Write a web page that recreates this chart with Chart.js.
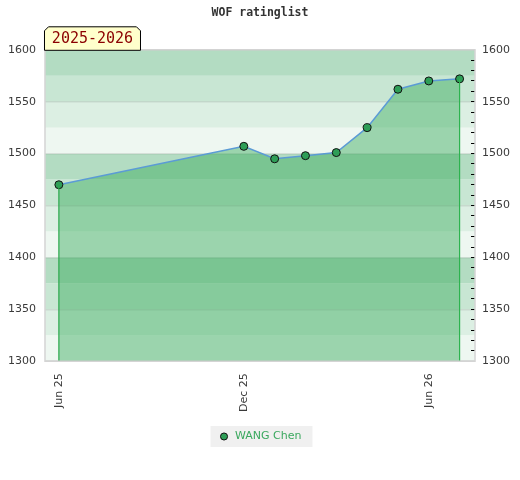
<!DOCTYPE html>
<html>
<head>
<meta charset="utf-8">
<script src="https://cdn.jsdelivr.net/npm/chart.js@4.4.1/dist/chart.umd.min.js"></script>
<style>
  body { margin: 0; background: #fff; }
  #wrap { width: 520px; height: 480px; }
</style>
</head>
<body>
<div id="wrap"><canvas id="ratingChart" width="520" height="480"></canvas></div>
<script>
// datos
const chartTitle = 'WOF ratinglist';
const seasonLabel = '2025-2026';
const playerName = 'WANG Chen';
const months = ['2025-06', '2025-12', '2026-01', '2026-02', '2026-03', '2026-04', '2026-05', '2026-06', '2026-07'];
const ratings = [1470, 1507, 1495, 1498, 1501, 1525, 1562, 1570, 1572];
const tickMonths = ['2025-06', '2025-12', '2026-06'];
const tickLabels = ['Jun 25', 'Dec 25', 'Jun 26'];
const yMin = 1300, yMax = 1600;

// colores de las franjas de fondo (cada 25 puntos)
const bandColors = ['#eef7f1', '#dcefe3', '#c8e6d3', '#b3dcc2'];

// mes -> numero (meses desde el primer dato)
function monthIndex(s) {
    const [y, m] = s.split('-').map(Number);
    const [y0, m0] = months[0].split('-').map(Number);
    return (y - y0) * 12 + (m - m0);
}

const points = months.map((m, i) => ({ x: monthIndex(m), y: ratings[i] }));
const first = points[0];
const last = points[points.length - 1];

// franjas de fondo, marco y etiqueta de temporada
const bandsPlugin = {
    id: 'bands',
    beforeDraw(chart) {
        const { ctx, chartArea: a, scales: { y } } = chart;
        ctx.save();
        for (let v = yMin, i = 0; v < yMax; v += 25, i++) {
            const top = y.getPixelForValue(v + 25);
            const bot = y.getPixelForValue(v);
            ctx.fillStyle = bandColors[i % 4];
            ctx.fillRect(a.left, top, a.right - a.left, bot - top);
        }
        // fondo gris de la leyenda
        const boxes = chart.legend && chart.legend.legendHitBoxes;
        if (boxes && boxes.length) {
            const b = boxes[0];
            ctx.fillStyle = '#f0f0f0';
            ctx.fillRect(b.left - 8, b.top - 5, b.width + 19, b.height + 10);
        }
        ctx.restore();
    },
    afterDatasetsDraw(chart) {
        const { ctx, chartArea: a } = chart;
        ctx.save();
        ctx.strokeStyle = '#d4d4d4';
        ctx.lineWidth = 1.5;
        ctx.strokeRect(a.left, a.top, a.right - a.left, a.bottom - a.top);
        ctx.restore();
    },
    afterDraw(chart) {
        const { ctx, chartArea: a } = chart;
        const l = a.left - 0.5, r = a.left + 95.5, t = a.top - 23, b = a.top + 0.5, c = 4;
        ctx.save();
        ctx.beginPath();
        ctx.moveTo(l, b);
        ctx.lineTo(l, t + c);
        ctx.lineTo(l + c, t);
        ctx.lineTo(r - c, t);
        ctx.lineTo(r, t + c);
        ctx.lineTo(r, b);
        ctx.closePath();
        ctx.fillStyle = '#ffffcc';
        ctx.fill();
        ctx.strokeStyle = '#000';
        ctx.lineWidth = 1;
        ctx.stroke();
        ctx.fillStyle = '#8b0000';
        ctx.font = '15px "DejaVu Sans Mono"';
        ctx.textAlign = 'center';
        ctx.textBaseline = 'middle';
        ctx.fillText(seasonLabel, (l + r) / 2, (t + b) / 2 + 1);
        ctx.restore();
    }
};

(() => {
    const graph = document.getElementById('ratingChart');
    window.myChart = new Chart(graph, {
        type: 'line',
        data: {
            datasets: [{
                label: playerName,
                data: points,
                order: 0,
                borderColor: '#5b9bd5',
                borderWidth: 1.5,
                backgroundColor: 'rgba(47,166,84,0.43)',
                fill: 'start',
                tension: 0,
                pointRadius: 4,
                pointBackgroundColor: '#2e9e57',
                pointBorderColor: '#111',
                pointBorderWidth: 1
            }, {
                label: 'start',
                data: [{ x: first.x, y: yMin }, { x: first.x, y: first.y }],
                order: -1,
                borderColor: '#2aa84c',
                borderWidth: 1.2,
                pointRadius: 0,
                fill: false
            }, {
                label: 'end',
                data: [{ x: last.x, y: yMin }, { x: last.x, y: last.y }],
                order: -1,
                borderColor: '#2db34f',
                borderWidth: 1.2,
                pointRadius: 0,
                fill: false
            }]
        },
        options: {
            responsive: false,
            animation: false,
            layout: { autoPadding: false, padding: { left: -1, right: -1, top: 0, bottom: 28 } },
            plugins: {
                title: {
                    display: true,
                    text: chartTitle,
                    color: '#333',
                    font: { family: '"DejaVu Sans Mono"', size: 11.5, weight: 'bold' },
                    padding: { top: 6, bottom: 30 }
                },
                legend: {
                    position: 'bottom',
                    labels: {
                        filter: (item) => item.datasetIndex === 0,
                        usePointStyle: true,
                        pointStyle: 'circle',
                        boxWidth: 11,
                        boxHeight: 5,
                        padding: 7,
                        color: '#3aa85e',
                        font: { family: '"DejaVu Sans"', size: 11 }
                    }
                },
                tooltip: { enabled: false }
            },
            scales: {
                x: {
                    type: 'linear',
                    min: -0.45,
                    max: 13.5,
                    afterBuildTicks: (scale) => {
                        scale.ticks = tickMonths.map((m) => ({ value: monthIndex(m) }));
                    },
                    ticks: {
                        minRotation: 90,
                        maxRotation: 90,
                        padding: 12,
                        color: '#3a3a3a',
                        font: { family: '"DejaVu Sans"', size: 11 },
                        callback: (v) => tickLabels[tickMonths.map(monthIndex).indexOf(v)]
                    },
                    grid: { display: false, drawTicks: false },
                    border: { display: false }
                },
                y: {
                    position: 'left',
                    min: yMin,
                    max: yMax,
                    ticks: {
                        stepSize: 50,
                        padding: 9,
                        color: '#3a3a3a',
                        font: { family: '"DejaVu Sans"', size: 11 },
                        callback: (v) => String(v)
                    },
                    grid: { color: 'rgba(0,0,0,0.09)', lineWidth: 1.5, drawTicks: false },
                    border: { display: false }
                },
                y2: {
                    position: 'right',
                    min: yMin,
                    max: yMax,
                    ticks: {
                        stepSize: 10,
                        padding: 11,
                        autoSkip: false,
                        color: '#3a3a3a',
                        font: { family: '"DejaVu Sans"', size: 11 },
                        callback: (v) => (v % 50 === 0 ? String(v) : '')
                    },
                    grid: {
                        drawOnChartArea: false,
                        tickLength: -4,
                        tickColor: (ctx) => (ctx.tick && (ctx.tick.value === yMin || ctx.tick.value === yMax) ? 'rgba(0,0,0,0)' : '#000')
                    },
                    border: { display: false }
                }
            }
        },
        plugins: [bandsPlugin]
    });
})();
</script>
</body>
</html>
